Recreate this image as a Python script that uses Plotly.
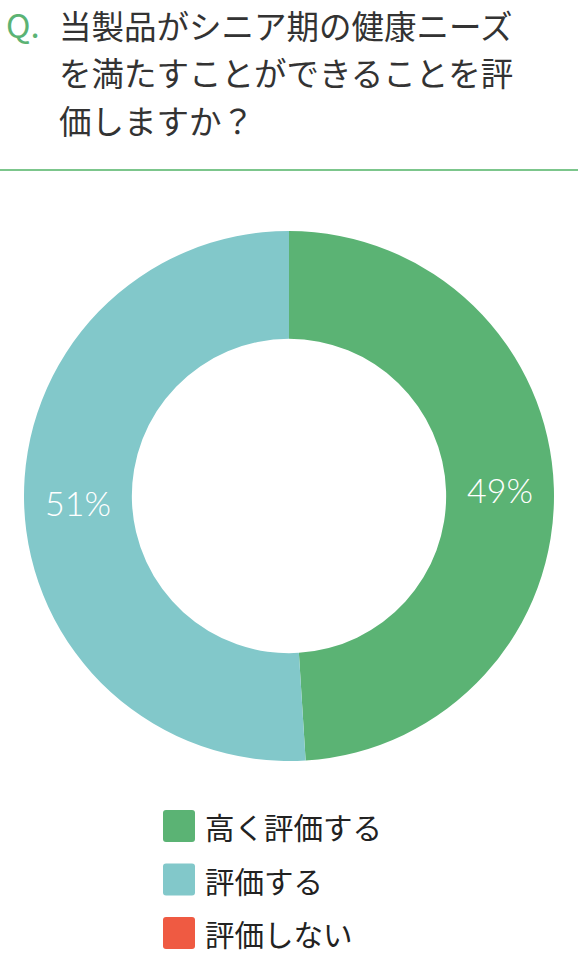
import plotly.graph_objects as go

labels = ["高く評価する", "評価する", "評価しない"]
values = [49, 51, 0]
colors = ["#5bb374", "#82c8ca", "#ef5a42"]
title_lines = ["当製品がシニア期の健康ニーズ", "を満たすことができることを評", "価しますか？"]
q_mark = "Q."

W, H = 578, 957
texts = [f"{v}%" if v > 0 else "" for v in values]

fig = go.Figure()
fig.add_trace(go.Pie(
    labels=labels, values=values, text=texts, textinfo="text",
    marker=dict(colors=colors, line=dict(width=0)),
    hole=0.593, sort=False, direction="clockwise", rotation=0,
    textposition="inside", insidetextorientation="horizontal",
    insidetextfont=dict(color="white", size=34, family="Lato", weight=300),
    domain=dict(x=[24 / W, 554 / W], y=[1 - 761 / H, 1 - 231 / H]),
    showlegend=False, hoverinfo="label+percent",
))

def py(y):
    return 1 - y / H

annotations = []
shapes = []
cjk = "Noto Sans CJK JP"
# Title
annotations.append(dict(x=4 / W, y=py(24), xref="paper", yref="paper", text=q_mark,
                        showarrow=False, xanchor="left", yanchor="middle",
                        font=dict(family=cjk, size=33, color="#5bb374")))
for i, line in enumerate(title_lines):
    annotations.append(dict(x=57 / W, y=py(24 + 48 * i), xref="paper", yref="paper", text=line,
                            showarrow=False, xanchor="left", yanchor="middle",
                            font=dict(family=cjk, size=32.5, color="#333333")))
# Separator
shapes.append(dict(type="line", xref="paper", yref="paper", x0=0, x1=1, y0=py(170), y1=py(170),
                   line=dict(color="#7cc68c", width=2)))

# Legend
for i, (lab, col) in enumerate(zip(labels, colors)):
    cy = 826 + 53.5 * i
    x0, x1, y0, y1 = 163, 195, cy - 16, cy + 16
    r = 3
    path = (f"M {x0+r},{y0} L {x1-r},{y0} Q {x1},{y0} {x1},{y0+r} L {x1},{y1-r} Q {x1},{y1} {x1-r},{y1} "
            f"L {x0+r},{y1} Q {x0},{y1} {x0},{y1-r} L {x0},{y0+r} Q {x0},{y0} {x0+r},{y0} Z")
    shapes.append(dict(type="path", xref="x", yref="y", path=path, fillcolor=col, line=dict(width=0)))
    annotations.append(dict(x=203, y=cy, xref="x", yref="y", text=lab, showarrow=False,
                            xanchor="left", yanchor="middle",
                            font=dict(family=cjk, size=29.5, color="#222222")))

fig.update_layout(
    width=W, height=H, margin=dict(l=0, r=0, t=0, b=0),
    paper_bgcolor="white", plot_bgcolor="rgba(0,0,0,0)",
    xaxis=dict(range=[0, W], visible=False, fixedrange=True, domain=[0, 1]),
    yaxis=dict(range=[H, 0], visible=False, fixedrange=True, domain=[0, 1]),
    annotations=annotations, shapes=shapes, showlegend=False,
)
fig.write_html("out.html", config={"displayModeBar": False},
               post_script="document.body.style.margin='0';document.body.style.overflow='hidden';")
